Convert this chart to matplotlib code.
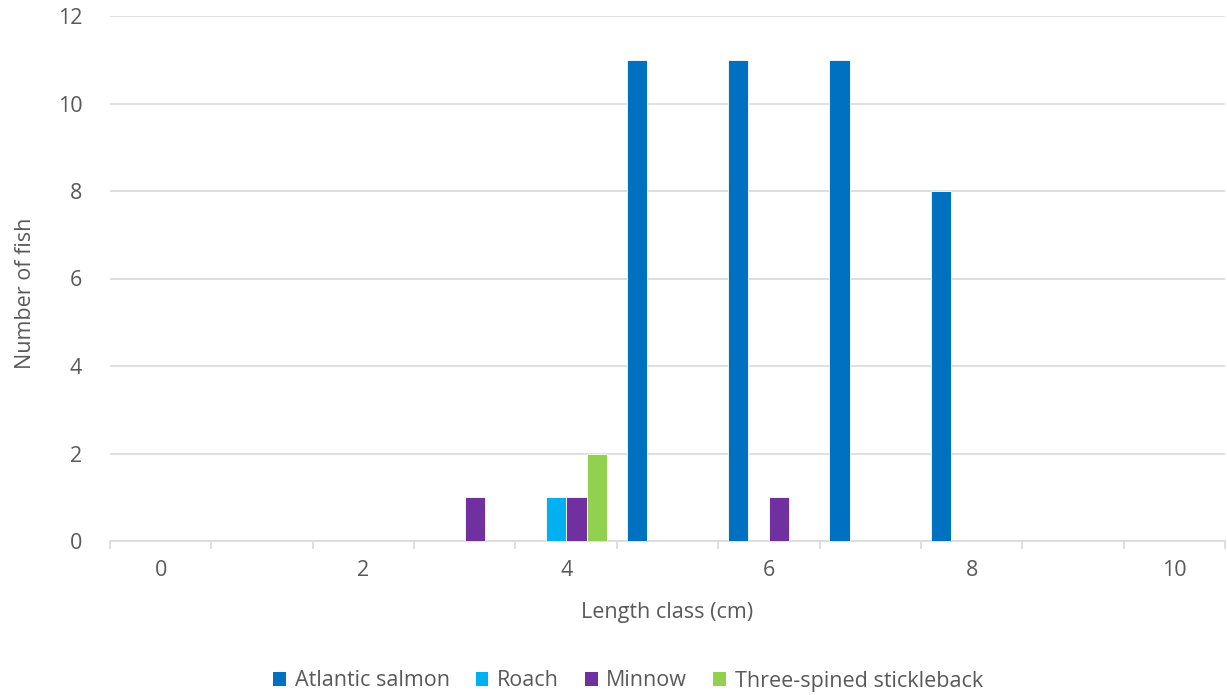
import numpy as np
import matplotlib.pyplot as plt
from matplotlib.patches import Patch

# length classes (cm) and counts per species
length_class = [0, 1, 2, 3, 4, 5, 6, 7, 8, 9, 10]
series_names = ["Atlantic salmon", "Roach", "Minnow", "Three-spined stickleback"]
salmon = [0, 0, 0, 0, 0, 11, 11, 11, 8, 0, 0]
roach = [0, 0, 0, 0, 1, 0, 0, 0, 0, 0, 0]
minnow = [0, 0, 0, 1, 1, 0, 1, 0, 0, 0, 0]
stickleback = [0, 0, 0, 0, 2, 0, 0, 0, 0, 0, 0]
colors = ["#0070C0", "#00B0F0", "#7030A0", "#92D050"]

plt.rcParams['font.family'] = ['Open Sans', 'DejaVu Sans']
txt = "#595959"
grid = "#D9D9D9"
fs = 15.5

fig = plt.figure(figsize=(12.27, 6.95), dpi=100)
ax = fig.add_axes([110 / 1227, 1 - 541 / 695, 1115 / 1227, 525 / 695])

x = np.arange(len(length_class))
w = 0.202
for k, (vals, c) in enumerate(zip([salmon, roach, minnow, stickleback], colors)):
    ax.bar(x + (k - 1.5) * w, vals, width=w, color=c, edgecolor="white",
           linewidth=0.6, zorder=3)

ax.set_xlim(-0.5, len(length_class) - 0.5)
ax.set_ylim(0, 12)
ax.set_yticks(range(0, 13, 2))
ax.yaxis.grid(True, color=grid, linewidth=1.2, zorder=0)
ax.tick_params(axis='y', length=0, pad=20, labelsize=fs, labelcolor=txt)

# boundary tick marks, labels on every other class
ax.set_xticks(np.arange(-0.5, len(length_class), 1.0))
ax.set_xticklabels([])
ax.tick_params(axis='x', which='major', length=6, color=grid, width=1.2)
ax.set_xticks(x[::2], minor=True)
ax.set_xticklabels([str(v) for v in length_class[::2]], minor=True)
ax.tick_params(axis='x', which='minor', length=0, pad=14, labelsize=fs,
               labelcolor=txt)

for s in ['top', 'right', 'left']:
    ax.spines[s].set_visible(False)
ax.spines['bottom'].set_color(grid)
ax.spines['bottom'].set_linewidth(1.2)

ax.set_xlabel("Length class (cm)", fontsize=fs, color=txt, labelpad=15)
ax.set_ylabel("Number of fish", fontsize=fs, color=txt)
ax.yaxis.set_label_coords(-0.066, 0.472)

handles = [Patch(facecolor=c, label=n) for c, n in zip(colors, series_names)]
fig.legend(handles=handles, loc='center', bbox_to_anchor=(628 / 1227, 1 - 681 / 695),
           ncol=4, frameon=False, fontsize=fs, labelcolor=txt,
           handlelength=0.6, handleheight=0.6, handletextpad=0.4,
           columnspacing=1.2)

fig.savefig("out.png", dpi=100)
